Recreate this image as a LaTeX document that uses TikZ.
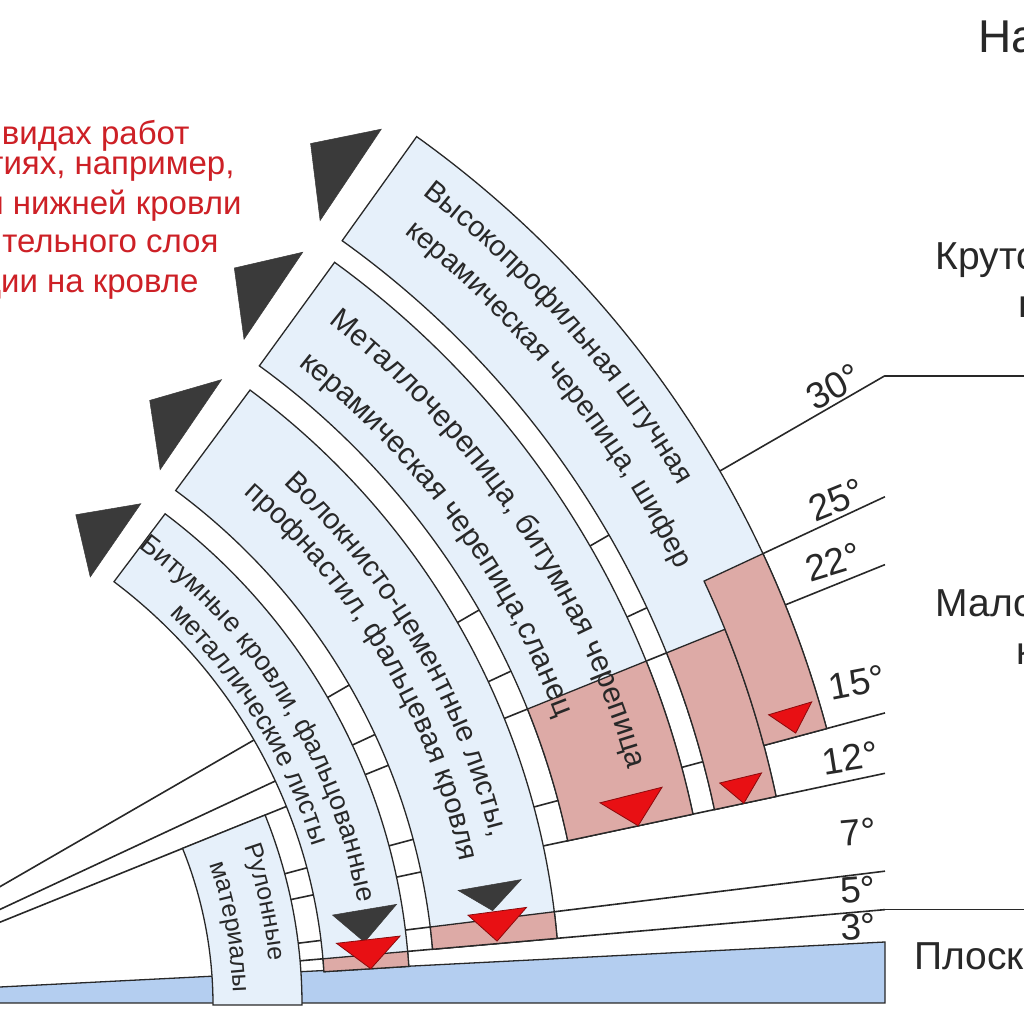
\documentclass[tikz,border=0pt]{standalone}
\usepackage{fontspec}
\setmainfont{Liberation Sans}
\usepackage{tikz}
\usetikzlibrary{decorations.text}

\definecolor{bandblue}{RGB}{230,240,250}
\definecolor{roofpink}{RGB}{221,170,166}
\definecolor{flatblue}{RGB}{180,206,240}
\definecolor{arrowred}{RGB}{232,16,20}
\definecolor{arrowdark}{RGB}{58,58,58}
\definecolor{notered}{RGB}{205,32,38}
\definecolor{ink}{RGB}{40,40,40}

% annular sector around the pivot: top angle, bottom angle, inner r, outer r
\newcommand{\sectorpath}[4]{(#1:#3pt) arc[start angle=#1, end angle=#2, radius=#3pt] -- (#2:#4pt) arc[start angle=#2, end angle=#1, radius=#4pt] -- cycle}
% triangle marker: style, base angle, base r1, base r2, tip angle, tip r
\newcommand{\slopetri}[6]{\filldraw[#1] (#2:#3pt) -- (#2:#4pt) -- (#5:#6pt) -- cycle;}
% text set along an arc: size, baseline r, centre angle, text
\newcommand{\arctext}[4]{\path[decorate, decoration={text along path, text align=center,
    text color=ink, text={|\fontsize{#1}{#1}\selectfont|#4}}]
    ({#3+45}:#2pt) arc[start angle={#3+45}, end angle={#3-45}, radius=#2pt];}

\begin{document}
\begin{tikzpicture}[x=1pt, y=1pt,
  fanline/.style={draw=ink, line width=1.6pt},
  band/.style={fill=bandblue, draw=ink, line width=1.3pt},
  pinkcell/.style={fill=roofpink, draw=ink, line width=1.3pt},
  redtri/.style={fill=arrowred, draw=arrowred!60!black, line width=0.8pt},
  darktri/.style={fill=arrowdark, draw=arrowdark, line width=0.5pt},
  degree/.style={font=\fontsize{37}{37}\selectfont, text=ink},
  note/.style={font=\fontsize{33}{33}\selectfont, text=notered, anchor=base east},
  zone/.style={font=\fontsize{39}{39}\selectfont, text=ink, anchor=base west},
]
  \useasboundingbox (0,0) rectangle (1024,1024);
  \clip (0,0) rectangle (1024,1024);
  \fill[white] (0,0) rectangle (1024,1024);

  % flat roof strip
  \draw[fill=flatblue, draw=ink, line width=1.3pt]
    (-10,21) -- (885,21) -- (885,82) -- (-10,36.5) -- cycle;

  \begin{scope}[shift={(-205,19)}]
    \coordinate (pivot) at (0,0);
    % slope lines
    \foreach \ang in {30,25,22}
      \draw[fanline] (pivot) -- (\ang:{1090/cos(\ang)}) coordinate (end\ang);
    \foreach \ang in {15,12,7,5}
      \draw[fanline] (\ang:440) -- (\ang:{1090/cos(\ang)}) coordinate (end\ang);
    \draw[fanline] (end30) -- ++(200,0);
    \draw[fanline] (end5) -- ++(200,0);

    % bands
    \draw[band] \sectorpath{22}{0}{418}{507};
    \draw[band] \sectorpath{53}{3.6}{530}{615};
    \draw[pinkcell] \sectorpath{5}{3.6}{530}{615};
    \draw[band] \sectorpath{53.5}{5}{640}{765};
    \draw[pinkcell] \sectorpath{7}{5}{640}{765};
    \draw[band] \sectorpath{54}{12}{790}{918};
    \draw[pinkcell] \sectorpath{22}{12}{790}{918};
    \draw[band] (54.4:940pt) arc[start angle=54.4, end angle=12, radius=940pt]
      -- (12:1003pt) arc[start angle=12, end angle=15, radius=1003pt]
      -- (15:1068pt) arc[start angle=15, end angle=54.4, radius=1068pt] -- cycle;
    \draw[pinkcell] \sectorpath{22}{12}{940}{1003};
    \draw[pinkcell] \sectorpath{25}{15}{1003}{1068};

    % markers at the top
    \slopetri{darktri}{56.2}{944}{1054}{59.1}{1004}
    \slopetri{darktri}{56}{803}{908}{59.2}{858}
    \slopetri{darktri}{55.7}{648}{757}{59.6}{701}
    \slopetri{darktri}{55.4}{520}{609}{60.2}{565}
    % markers at the foot
    \slopetri{darktri}{9.5}{545}{610}{6.3}{573}
    \slopetri{redtri}{6.5}{545}{609}{3.6}{577}
    \slopetri{darktri}{9.8}{673}{737}{7.7}{704}
    \slopetri{redtri}{7.6}{679}{738}{5.2}{705}
    \slopetri{redtri}{14.1}{830}{894}{12}{862}
    \slopetri{redtri}{13.5}{951}{994}{12}{970}
    \slopetri{redtri}{16.6}{1016}{1061}{15.2}{1037}

    % band texts
    \arctext{29}{1025}{41.35}{Высокопрофильная штучная}
    \arctext{29}{983}{39.0}{керамическая черепица, шифер}
    \arctext{30}{866}{33.9}{Металлочерепица, битумная черепица}
    \arctext{30}{814}{36.2}{керамическая черепица,сланец}
    \arctext{29}{715}{30.2}{Волокнисто-цементные листы,}
    \arctext{29}{680}{30.45}{профнастил, фальцевая кровля}
    \arctext{27}{572}{31.65}{Битумные кровли, фальцованные}
    \arctext{27}{541}{31.65}{металлические листы}
    \arctext{25}{476}{12.35}{Рулонные}
    \arctext{25}{438}{10.15}{материалы}
  \end{scope}

  % slope labels
  \node[degree, rotate=29] (lbl30) at (834,637) {30°};
  \node[degree, rotate=22] (lbl25) at (837,524) {25°};
  \node[degree, rotate=17] (lbl22) at (833,462) {22°};
  \node[degree, rotate=11] (lbl15) at (857,341) {15°};
  \node[degree, rotate=9] (lbl12) at (850,266) {12°};
  \node[degree, rotate=5] (lbl7) at (858,192) {7°};
  \node[degree, rotate=4] (lbl5) at (858,134) {5°};
  \node[degree, rotate=3] (lbl3) at (858,97) {3°};

  % red note
  \node[note] (note1) at (193,879) {видах работ};
  \node[note] (note2) at (238,849) {тиях, например,};
  \node[note] (note3) at (245,809) {и нижней кровли};
  \node[note] (note4) at (222,771) {ительного слоя};
  \node[note] (note5) at (202,731) {ции на кровле};

  % zone names
  \node[zone, font=\fontsize{46}{46}\selectfont] (title) at (975,971) {На};
  \node[zone] (steep) at (932,754) {Круто};
  \node[zone] (steep2) at (1015,706) {н};
  \node[zone] (low) at (932,407) {Мало};
  \node[zone] (low2) at (1013,359) {к};
  \node[zone] (flat) at (911,54) {Плоск};
\end{tikzpicture}
\end{document}
